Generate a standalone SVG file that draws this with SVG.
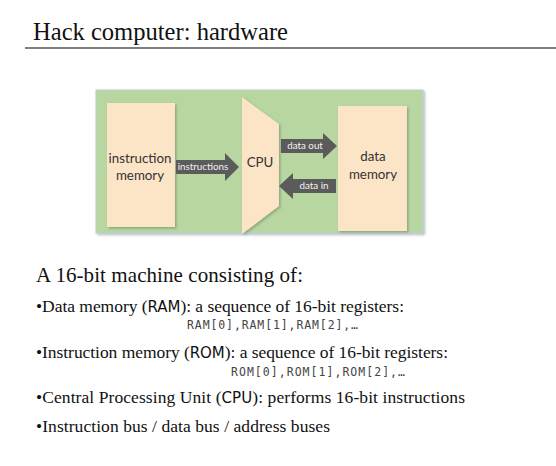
<svg xmlns="http://www.w3.org/2000/svg" width="556" height="466" viewBox="0 0 556 466">
<defs>
<filter id="sh" x="-10%" y="-10%" width="130%" height="130%">
<feDropShadow dx="1.5" dy="1.5" stdDeviation="1" flood-color="#5a6a5a" flood-opacity="0.45"/>
</filter>
<style>
.serif{font-family:"Liberation Serif","Times New Roman",serif;fill:#111}
.box{fill:#fce4c7;filter:url(#sh)}
.lbl{font-family:Lato,"Open Sans",sans-serif;font-size:13.3px;fill:#333;text-anchor:middle}
.arr{fill:#5b5b5b}
.alb{font-family:Lato,"Open Sans",sans-serif;font-size:9.8px;fill:#f2f2f2;text-anchor:middle}
.mono{font-family:"DejaVu Sans Mono","Liberation Mono",monospace;font-size:11.5px;fill:#444}
.sans{font-family:"DejaVu Sans","Liberation Sans",sans-serif;font-size:15px}
.bl{font-size:17.5px}
</style>
</defs>
<rect width="556" height="466" fill="#ffffff"/>
<text class="serif" x="33" y="40" font-size="24.6" textLength="255" lengthAdjust="spacing">Hack computer: hardware</text>
<line x1="25" y1="48" x2="556" y2="48" stroke="#555" stroke-width="1.6"/>

<rect x="96" y="90" width="327" height="143" fill="#b7d6a0" stroke="#b9cfd8" stroke-width="1" filter="url(#sh)"/>

<g id="instruction-memory">
<rect class="box" x="107" y="103" width="68" height="124"/>
<text class="lbl" x="140" y="163">instruction</text>
<text class="lbl" x="140" y="180">memory</text>
</g>

<g id="cpu">
<polygon class="box" points="242,97 279,124 279,206 242,234"/>
<text class="lbl" x="260" y="167" font-size="15">CPU</text>
</g>

<g id="data-memory">
<rect class="box" x="338" y="106" width="69" height="125"/>
<text class="lbl" x="373" y="161">data</text>
<text class="lbl" x="373" y="179">memory</text>
</g>

<g id="connectors">
<g id="instructions">
<polygon class="arr" points="176,160 225,160 225,153 239,167 225,181 225,174 176,174"/>
<text class="alb" x="203" y="170">instructions</text>
</g>
<g id="data-out">
<polygon class="arr" points="281,139 323,139 323,133 337,146 323,159 323,153 281,153"/>
<text class="alb" x="305" y="149">data out</text>
</g>
<g id="data-in">
<polygon class="arr" points="336,179 293,179 293,173 279,186 293,199 293,193 336,193"/>
<text class="alb" x="314" y="189">data in</text>
</g>
</g>

<text class="serif" x="36" y="282" font-size="21" textLength="267" lengthAdjust="spacing">A 16-bit machine consisting of:</text>
<text class="serif bl" x="36" y="312" textLength="368" lengthAdjust="spacing">•Data memory (<tspan class="sans">RAM</tspan>): a sequence of 16-bit registers:</text>
<text class="mono" x="187" y="329" textLength="171" lengthAdjust="spacing">RAM[0],RAM[1],RAM[2],…</text>
<text class="serif bl" x="36" y="358" textLength="412" lengthAdjust="spacing">•Instruction memory (<tspan class="sans">ROM</tspan>): a sequence of 16-bit registers:</text>
<text class="mono" x="231" y="376" textLength="174" lengthAdjust="spacing">ROM[0],ROM[1],ROM[2],…</text>
<text class="serif bl" x="36" y="403" textLength="429" lengthAdjust="spacing">•Central Processing Unit (<tspan class="sans">CPU</tspan>): performs 16-bit instructions</text>
<text class="serif bl" x="36" y="432" textLength="294" lengthAdjust="spacing">•Instruction bus / data bus / address buses</text>
</svg>
